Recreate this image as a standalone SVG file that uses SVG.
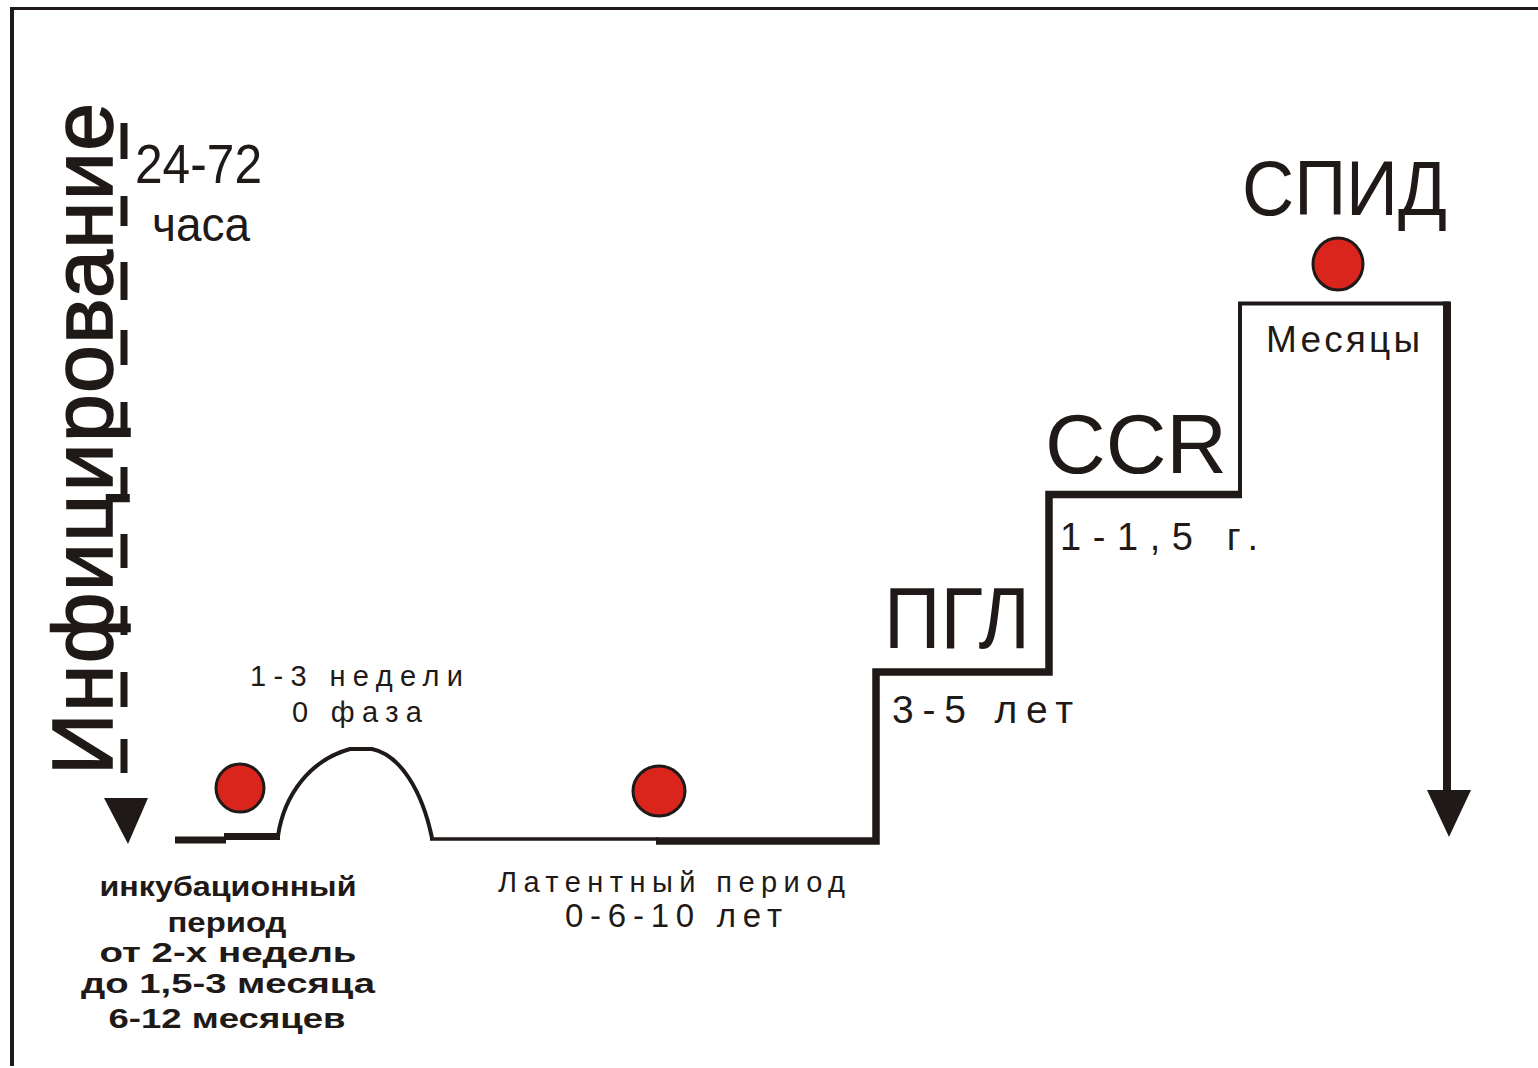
<svg xmlns="http://www.w3.org/2000/svg" width="1538" height="1068" viewBox="0 0 1538 1068">
<defs>
<style>
.ink{fill:#1f1a17;}
.ln{stroke:#1f1a17;fill:none;stroke-linecap:butt;stroke-linejoin:miter;}
.t{font-family:"Liberation Sans",Arial,sans-serif;fill:#1f1a17;}
.b{font-family:"Liberation Sans",Arial,sans-serif;fill:#1f1a17;font-weight:bold;font-size:28px;text-anchor:middle;}
.dot{fill:#da251d;stroke:#1f1a17;stroke-width:3;}
</style>
</defs>
<rect width="1538" height="1068" fill="#ffffff"/>
<g id="frame">
<line class="ln" x1="10" y1="8.5" x2="1538" y2="8.5" stroke-width="3"/>
<line class="ln" x1="12" y1="7" x2="12" y2="1066" stroke-width="4"/>
</g>
<g id="connectors">
<line class="ln" x1="175" y1="840" x2="226" y2="840" stroke-width="7"/>
<line class="ln" x1="224" y1="836.5" x2="280" y2="836.5" stroke-width="7"/>
<path class="ln" d="M278,836 C284,795 310,760 350,749 L372,749 C400,755 422,790 432,838" stroke-width="4"/>
<line class="ln" x1="430" y1="839" x2="658" y2="839" stroke-width="3.5"/>
<path class="ln" d="M656,841 H876 V672 H1049 V494.5 H1242" stroke-width="7.5"/>
<path class="ln" d="M1240,498 V303.5 H1449" stroke-width="4"/>
<line class="ln" x1="1447" y1="301.5" x2="1447" y2="792" stroke-width="8"/>
<polygon class="ink" points="1427,790 1471,790 1449,837"/>
<polygon class="ink" points="104,798 148,798 128,844"/>
</g>
<g id="infection">
<text transform="translate(112,775) rotate(-90)" x="0" y="0" textLength="672" lengthAdjust="spacing" style="font-family:'Liberation Sans',Arial,sans-serif;font-size:86px;fill:#1f1a17;stroke:#1f1a17;stroke-width:1.6">Инфицирование</text>
<g stroke="#1f1a17" stroke-width="7">
<line x1="124" y1="123" x2="124" y2="159"/>
<line x1="124" y1="196" x2="124" y2="226"/>
<line x1="124" y1="262" x2="124" y2="300"/>
<line x1="124" y1="330" x2="124" y2="365"/>
<line x1="124" y1="402" x2="124" y2="430"/>
<line x1="124" y1="467" x2="124" y2="502"/>
<line x1="124" y1="534" x2="124" y2="568"/>
<line x1="124" y1="606" x2="124" y2="635"/>
<line x1="124" y1="672" x2="124" y2="707"/>
<line x1="124" y1="739" x2="124" y2="773"/>
</g>
<text class="t" x="135" y="183" font-size="56" textLength="127" lengthAdjust="spacingAndGlyphs">24-72</text>
<text class="t" x="152" y="241" font-size="48" textLength="98" lengthAdjust="spacingAndGlyphs">часа</text>
</g>
<g id="incubation">
<ellipse class="dot" cx="240" cy="788" rx="24" ry="24"/>
<text class="b" x="228" y="896" textLength="257" lengthAdjust="spacingAndGlyphs">инкубационный</text>
<text class="b" x="227" y="932" textLength="119" lengthAdjust="spacingAndGlyphs">период</text>
<text class="b" x="228" y="962" textLength="257" lengthAdjust="spacingAndGlyphs">от 2-х недель</text>
<text class="b" x="228" y="993" textLength="294" lengthAdjust="spacingAndGlyphs">до 1,5-3 месяца</text>
<text class="b" x="227" y="1028" textLength="237" lengthAdjust="spacingAndGlyphs">6-12 месяцев</text>
</g>
<g id="phase0">
<text class="t" x="250" y="686" font-size="29" textLength="213" lengthAdjust="spacing">1-3 недели</text>
<text class="t" x="292" y="722" font-size="29" textLength="130" lengthAdjust="spacing">0 фаза</text>
</g>
<g id="latent">
<ellipse class="dot" cx="659" cy="791" rx="26" ry="25"/>
<text class="t" x="498" y="892" font-size="29" textLength="347" lengthAdjust="spacing">Латентный период</text>
<text class="t" x="565" y="927" font-size="33" textLength="217" lengthAdjust="spacing">0-6-10 лет</text>
</g>
<g id="pgl">
<text class="t" x="884" y="648" font-size="88" textLength="146" lengthAdjust="spacingAndGlyphs">ПГЛ</text>
<text class="t" x="892" y="723" font-size="39" textLength="181" lengthAdjust="spacing">3-5 лет</text>
</g>
<g id="ccr">
<text class="t" x="1045" y="473" font-size="84" textLength="182" lengthAdjust="spacingAndGlyphs">CCR</text>
<text class="t" x="1060" y="550" font-size="38" textLength="198" lengthAdjust="spacing">1-1,5 г.</text>
</g>
<g id="aids">
<text class="t" x="1242" y="215" font-size="77" textLength="205" lengthAdjust="spacingAndGlyphs">СПИД</text>
<ellipse class="dot" cx="1338" cy="264" rx="25" ry="26"/>
<text class="t" x="1266" y="352" font-size="37" textLength="154" lengthAdjust="spacing">Месяцы</text>
</g>
</svg>
